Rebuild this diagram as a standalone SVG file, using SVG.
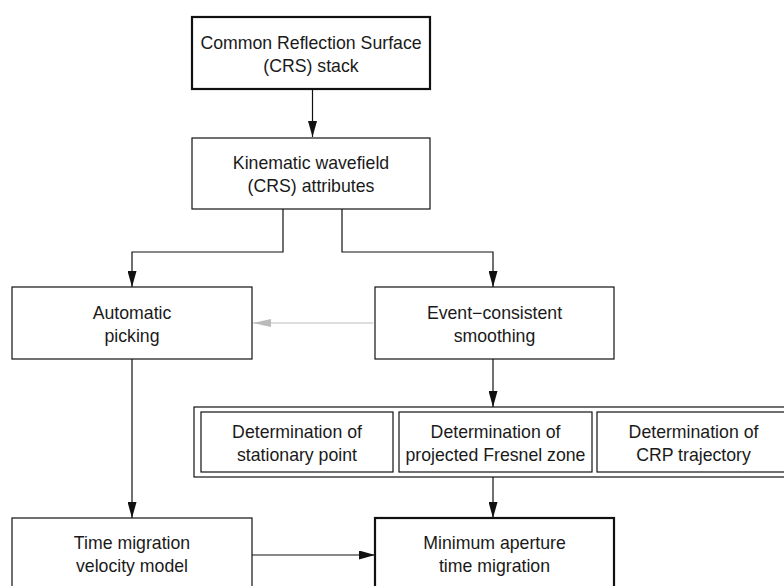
<svg xmlns="http://www.w3.org/2000/svg" width="784" height="586" viewBox="0 0 784 586">
<style>
text{font-family:"Liberation Sans",Arial,sans-serif;font-size:17.7px;fill:#1a1a1a;text-anchor:middle}
.b{fill:#fff;stroke:#111;stroke-width:1.2}
.bb{fill:#fff;stroke:#111;stroke-width:2.2}
.c{fill:none;stroke:#111;stroke-width:1.2}
.g{fill:none;stroke:#bbb;stroke-width:1.2}
</style>
<defs>
<marker id="a" viewBox="0 0 16 9" refX="16" refY="4.5" markerWidth="16" markerHeight="9" markerUnits="userSpaceOnUse" orient="auto"><path d="M0,0L16,4.5L0,9z" fill="#111"/></marker>
<marker id="ag" viewBox="0 0 18 8" refX="18" refY="4" markerWidth="18" markerHeight="8" markerUnits="userSpaceOnUse" orient="auto"><path d="M0,0L18,4L0,8z" fill="#bbb"/></marker>
</defs>
<rect width="784" height="586" fill="#fff"/>
<g id="connectors">
<path class="c" d="M312.5,89V137" marker-end="url(#a)"/>
<path class="c" d="M283,209V252H132V287" marker-end="url(#a)"/>
<path class="c" d="M342,209V252H493V287" marker-end="url(#a)"/>
<path class="g" d="M373,323H253" marker-end="url(#ag)"/>
<path class="c" d="M493,359V407" marker-end="url(#a)"/>
<path class="c" d="M132,359V518" marker-end="url(#a)"/>
<path class="c" d="M493,477V518" marker-end="url(#a)"/>
<path class="c" d="M252,555H375" marker-end="url(#a)"/>
</g>
<g id="crs-stack"><rect class="bb" x="192" y="17" width="238" height="72"/><text x="311" y="48.5">Common Reflection Surface</text><text x="311" y="71.5">(CRS) stack</text></g>
<g id="attributes"><rect class="b" x="192" y="138" width="238" height="71"/><text x="311" y="169">Kinematic wavefield</text><text x="311" y="192">(CRS) attributes</text></g>
<g id="auto-picking"><rect class="b" x="12" y="287" width="240" height="72"/><text x="132" y="318.5">Automatic</text><text x="132" y="341.5">picking</text></g>
<g id="smoothing"><rect class="b" x="375" y="287" width="239" height="72"/><text x="494.5" y="318.5">Event−consistent</text><text x="494.5" y="341.5">smoothing</text></g>
<g id="determination">
<rect class="b" x="194" y="407" width="610" height="70"/>
<g id="stationary"><rect class="b" x="201" y="412" width="192" height="60"/><text x="297" y="437.5">Determination of</text><text x="297" y="460.5">stationary point</text></g>
<g id="fresnel"><rect class="b" x="399" y="412" width="193" height="60"/><text x="495.5" y="437.5">Determination of</text><text x="495.5" y="460.5">projected Fresnel zone</text></g>
<g id="crp"><rect class="b" x="597" y="412" width="193" height="60"/><text x="693.5" y="437.5">Determination of</text><text x="693.5" y="460.5">CRP trajectory</text></g>
</g>
<g id="velocity-model"><rect class="b" x="12" y="518" width="240" height="72"/><text x="132" y="549">Time migration</text><text x="132" y="572">velocity model</text></g>
<g id="min-aperture"><rect class="bb" x="375" y="518" width="239" height="72"/><text x="494.5" y="549">Minimum aperture</text><text x="494.5" y="572">time migration</text></g>
</svg>
